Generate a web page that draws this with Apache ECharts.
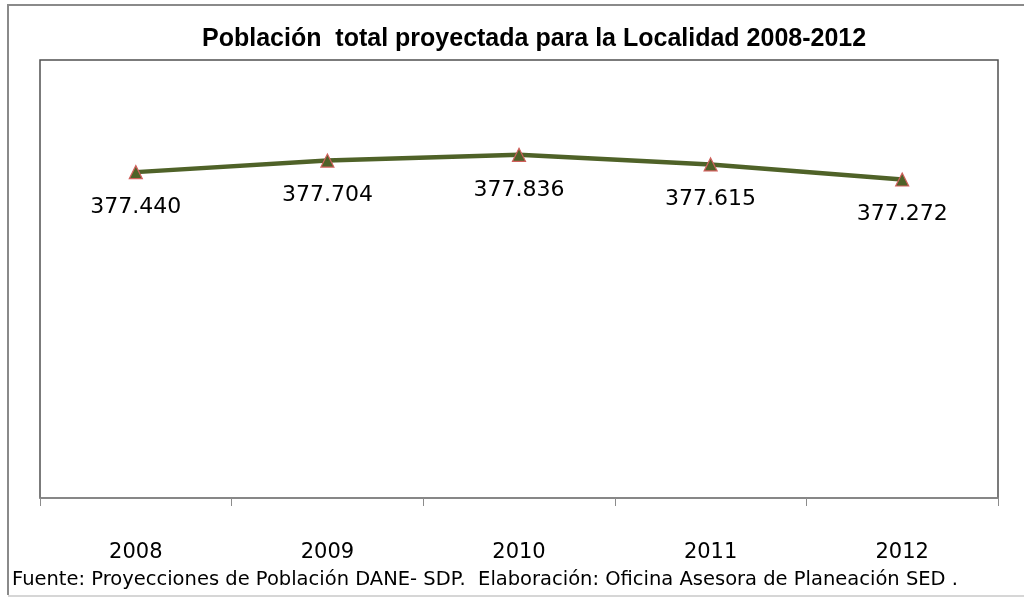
<!DOCTYPE html>
<html><head><meta charset="utf-8">
<script src="https://cdn.jsdelivr.net/npm/echarts@6/dist/echarts.min.js"></script>
<style>html,body{margin:0;padding:0;background:#fff;overflow:hidden}#c{width:1024px;height:597px}</style>
</head><body><div id="c"></div>
<script>
const years = ['2008','2009','2010','2011','2012'];
const poblacion = [377440, 377704, 377836, 377615, 377272];
const titleText = 'Población  total proyectada para la Localidad 2008-2012';
const sourceText = 'Fuente: Proyecciones de Población DANE- SDP.  Elaboración: Oficina Asesora de Planeación SED .';

const chart = echarts.init(document.getElementById('c'), null, {renderer:'canvas'});
const fmt = v => String(v).replace(/\B(?=(\d{3})+(?!\d))/g, '.');
chart.setOption({
  animation:false,
  backgroundColor:'#fff',
  title:{text:titleText,left:197,top:22,
    textStyle:{fontFamily:'Liberation Sans, sans-serif',fontWeight:'bold',fontSize:25,color:'#000'}},
  grid:{left:40,top:60,right:26,bottom:99,show:true,borderColor:'#505050',borderWidth:1.5,backgroundColor:'#fff'},
  xAxis:{type:'category',data:years,boundaryGap:true,
    axisLine:{lineStyle:{color:'#8c8c8c',width:1.5}},
    axisTick:{show:true,length:8,lineStyle:{color:'#8c8c8c'}},
    axisLabel:{margin:44,fontFamily:'DejaVu Sans',fontSize:21,color:'#000'}},
  yAxis:{type:'value',min:370000,max:380000,show:false,splitLine:{show:false}},
  series:[{type:'line',data:poblacion,
    lineStyle:{color:'#4F6228',width:4.5},
    symbol:'triangle',symbolSize:13,
    itemStyle:{color:'#4F6228',borderColor:'#D0605C',borderWidth:1.2},
    label:{show:true,position:'bottom',distance:17,formatter:p=>fmt(p.value),
      fontFamily:'DejaVu Sans',fontSize:22,color:'#000'}}],
  graphic:[
    {type:'polyline',shape:{points:[[1030,5],[8,5],[8,595]]},style:{fill:null,stroke:'#8a8a8a',lineWidth:2},silent:true,z:-1},
    {type:'polyline',shape:{points:[[8,596],[1030,596]]},style:{fill:null,stroke:'#c8c8c8',lineWidth:1.5},silent:true,z:-1},
    {type:'text',left:12,top:570,style:{text:sourceText,fontFamily:'DejaVu Sans',fontSize:19.5,fill:'#000'}}
  ]
});
</script></body></html>
